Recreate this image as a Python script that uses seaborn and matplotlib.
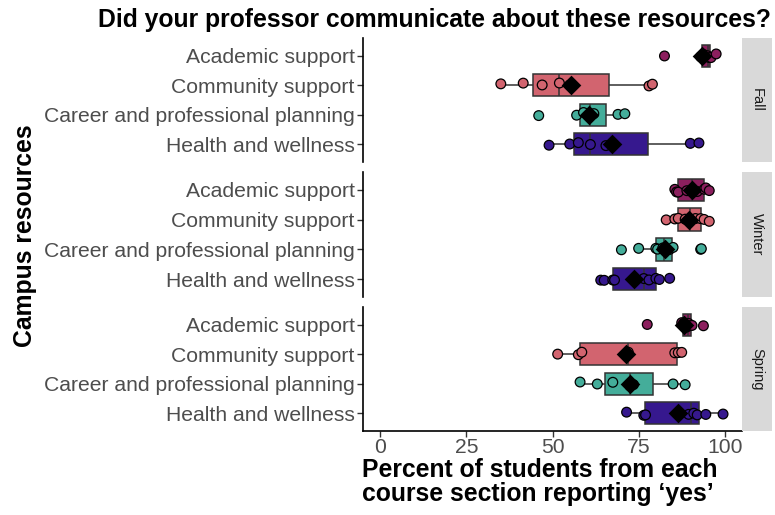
import numpy as np
import pandas as pd
import seaborn as sns
import matplotlib.pyplot as plt

terms = ['Fall', 'Winter', 'Spring']
resources = ['Academic support', 'Community support',
             'Career and professional planning', 'Health and wellness']
colors = ['#8C1F5E', '#D2646F', '#44AD9A', '#36188E']

# percent 'yes' per course section
fall_academic = [82.5, 93, 94, 95, 95.5, 96, 97.5]
fall_community = [35, 41.5, 47, 52, 55, 78, 79]
fall_career = [46, 57, 59, 61, 62, 69, 71]
fall_health = [49, 55, 57.5, 61, 65.5, 90, 92.5]

winter_academic = [85.5, 86, 86.5, 89, 90.5, 92, 94, 94.5, 95.5]
winter_community = [83, 85.5, 86.5, 88.5, 90, 91.5, 93, 94, 95.5]
winter_career = [70, 75, 80, 80.5, 82, 82.5, 84, 85, 93, 93.2]
winter_health = [64, 65, 67.5, 68, 76.5, 78, 80, 81, 84]

spring_academic = [77.5, 87.5, 88, 89, 89.5, 90, 90.5, 93.8]
spring_community = [51.5, 57.5, 58.5, 72, 85.5, 86.5, 87.5]
spring_career = [58, 63, 67.5, 72.5, 73.5, 85, 88.5]
spring_health = [71.5, 76.5, 77, 89.5, 91, 92, 94.5, 99.5]

x_ticks = [0, 25, 50, 75, 100]


def main():
    np.random.seed(3)
    data = {
        'Fall': [fall_academic, fall_community, fall_career, fall_health],
        'Winter': [winter_academic, winter_community, winter_career, winter_health],
        'Spring': [spring_academic, spring_community, spring_career, spring_health],
    }
    rows = []
    for term in terms:
        for res, vals in zip(resources, data[term]):
            for v in vals:
                rows.append({'term': term, 'resource': res, 'pct': v})
    df = pd.DataFrame(rows)

    sns.set_theme(style='ticks')
    plt.rcParams['font.family'] = ['Liberation Sans', 'DejaVu Sans']
    pal = dict(zip(resources, colors))

    fig = plt.figure(figsize=(7.75, 5.15), dpi=100)
    W, H = 775, 515
    left, right = 363, 742
    panels = [(38, 162), (172, 297), (307, 431)]  # pixel top/bottom of each facet

    for i, term in enumerate(terms):
        top, bot = panels[i]
        ax = fig.add_axes([left / W, 1 - bot / H, (right - left) / W, (bot - top) / H])
        sub = df[df['term'] == term]

        sns.boxplot(data=sub, x='pct', y='resource', hue='resource', order=resources,
                    hue_order=resources, palette=pal, width=0.75, saturation=1,
                    showfliers=False, showcaps=False, linecolor='#333333',
                    linewidth=1.1, legend=False, ax=ax)
        sns.stripplot(data=sub, x='pct', y='resource', hue='resource', order=resources,
                      hue_order=resources, palette=pal, jitter=0.08, size=7,
                      linewidth=0.9, edgecolor='black', legend=False, ax=ax, zorder=3)
        means = sub.groupby('resource', sort=False)['pct'].mean().reset_index()
        sns.scatterplot(data=means, x='pct', y='resource', marker='D', color='black',
                        s=100, linewidth=0, ax=ax, zorder=4, legend=False)

        ax.set_xlim(-5, 105)
        ax.set_ylim(3.6, -0.6)
        ax.set_xlabel('')
        ax.set_ylabel('')
        ax.tick_params(axis='y', labelsize=15.2, labelcolor='#4D4D4D', length=4,
                       width=1, color='#333333', pad=2)
        for s in ['top', 'right']:
            ax.spines[s].set_visible(False)
        ax.spines['left'].set_linewidth(1.2)
        ax.spines['left'].set_color('black')
        if i < 2:
            ax.spines['bottom'].set_visible(False)
            ax.set_xticks([])
        else:
            ax.set_xticks(x_ticks)
            ax.spines['bottom'].set_linewidth(1.2)
            ax.spines['bottom'].set_color('black')
            ax.tick_params(axis='x', labelsize=15.2, labelcolor='#4D4D4D', length=4,
                           width=1, color='#333333', pad=1)

        # facet strip on the right
        sax = fig.add_axes([right / W, 1 - bot / H, 30 / W, (bot - top) / H])
        sax.set_facecolor('#D9D9D9')
        sax.set_xticks([])
        sax.set_yticks([])
        for s in sax.spines.values():
            s.set_visible(False)
        sax.text(0.5, 0.5, term, rotation=270, ha='center', va='center',
                 fontsize=10.5, color='#1A1A1A', transform=sax.transAxes)

    fig.text(98 / W, 1 - 20 / H, 'Did your professor communicate about these resources?',
             fontsize=17.8, fontweight='bold', ha='left', va='center', color='black')
    fig.text(25 / W, 1 - 236 / H, 'Campus resources', rotation=90, fontsize=17.8,
             fontweight='bold', ha='center', va='center', color='black')
    fig.text(362 / W, 1 - 477 / H, 'Percent of students from each',
             fontsize=17.8, fontweight='bold', ha='left', va='baseline', color='black')
    fig.text(362 / W, 1 - 501 / H, 'course section reporting \u2018yes\u2019',
             fontsize=17.8, fontweight='bold', ha='left', va='baseline', color='black')

    fig.savefig('out.png', dpi=100)


if __name__ == "__main__":
    main()
